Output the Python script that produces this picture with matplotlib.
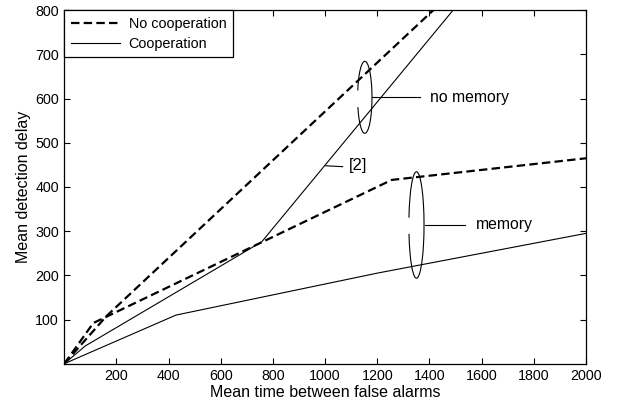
import numpy as np
import matplotlib.pyplot as plt
from matplotlib.patches import Arc

plt.rcParams['font.family'] = ['Liberation Sans', 'DejaVu Sans']

# No cooperation (dashed)
nc_nomem_x = [0, 162, 1414]
nc_nomem_y = [0, 108, 800]
nc_mem_x = [0, 111, 1255, 2000]
nc_mem_y = [0, 92, 416, 465]

# Cooperation (solid)
c_nomem_x = [0, 80, 757, 1490]
c_nomem_y = [0, 40, 276, 800]
c_mem_x = [0, 428, 1200, 2000]
c_mem_y = [0, 110, 205, 295]

xticks = [200, 400, 600, 800, 1000, 1200, 1400, 1600, 1800, 2000]
yticks = [100, 200, 300, 400, 500, 600, 700, 800]

fig = plt.figure(figsize=(6.19, 4.04), dpi=100)
ax = fig.add_axes([0.1039, 0.0998, 0.8428, 0.8747])

dash = dict(color='k', lw=1.6, dashes=(3.8, 1.9))
solid = dict(color='k', lw=0.8)

ax.plot(nc_nomem_x, nc_nomem_y, label='No cooperation', **dash)
ax.plot(nc_mem_x, nc_mem_y, **dash)
ax.plot(c_nomem_x, c_nomem_y, label='Cooperation', **solid)
ax.plot(c_mem_x, c_mem_y, **solid)

# annotation loops
ax.add_patch(Arc((1152, 603), 55, 163, theta1=-140, theta2=150, color='k', lw=0.8))
ax.plot([1180, 1363], [603, 603], color='k', lw=0.8)
ax.text(1402, 603, 'no memory', fontsize=11.3, va='center', ha='left')

ax.add_patch(Arc((1350, 314), 58, 241, theta1=-145, theta2=150, color='k', lw=0.8))
ax.plot([1382, 1536], [314, 314], color='k', lw=0.8)
ax.text(1578, 314, 'memory', fontsize=11.3, va='center', ha='left')

ax.plot([1002, 1067], [448, 446], color='k', lw=0.8)
ax.text(1092, 448, '[2]', fontsize=12, va='center', ha='left')

ax.set_xlim(0, 2000)
ax.set_ylim(0, 800)
ax.set_xticks(xticks)
ax.set_yticks(yticks)
ax.tick_params(direction='in', top=True, right=True, labelsize=10.3, length=4, width=0.8, pad=4)
for s in ax.spines.values():
    s.set_linewidth(0.9)

ax.set_xlabel('Mean time between false alarms', fontsize=11.5, labelpad=1)
ax.set_ylabel('Mean detection delay', fontsize=11.5, labelpad=3)

leg = ax.legend(loc='upper left', bbox_to_anchor=(0, 1), borderaxespad=0,
                fancybox=False, edgecolor='k', framealpha=1, fontsize=10.4,
                handlelength=3.4, handletextpad=0.6, borderpad=0.45, labelspacing=0.4)
leg.get_frame().set_linewidth(0.9)

fig.savefig('out.png', dpi=100)
